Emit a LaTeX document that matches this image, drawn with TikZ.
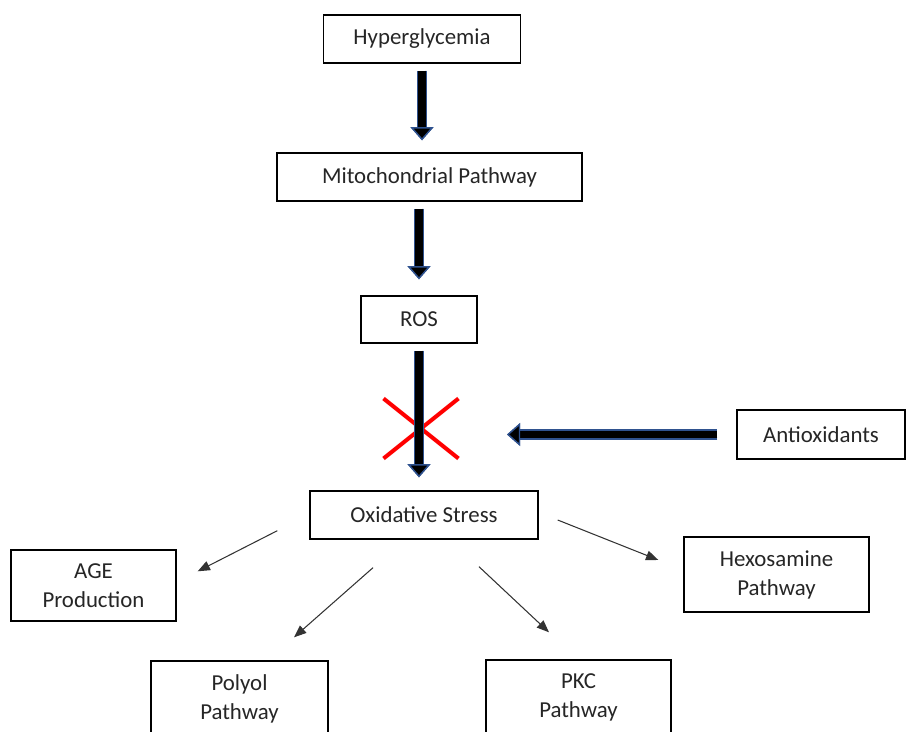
\documentclass[tikz,border=0pt]{standalone}
\usepackage{fontspec}
\setmainfont{Carlito}
\usetikzlibrary{arrows.meta,shapes.misc,calc}
\definecolor{arrowblue}{RGB}{47,82,143}
\definecolor{crossred}{RGB}{255,0,0}
\newcommand{\boxfont}{\fontsize{13}{16.5}\selectfont}

\begin{document}
\begin{tikzpicture}[x=0.02cm,y=-0.02cm,
    box/.style={draw,line width=0.8pt,fill=white,text=black!85,align=center,font=\boxfont,inner sep=1pt},
    bigarrow/.style={draw=black,line width=4.2pt,
      -{Triangle[length=7.5pt,width=13pt,fill=black,color=arrowblue,line width=0.8pt]},
      preaction={draw=arrowblue,line width=5.8pt}},
    thinarrow/.style={draw=black!80,line width=0.6pt,-{Triangle[length=7pt,width=5.5pt]}}]
  \useasboundingbox (0,0) rectangle (906,732);
  \clip (0,0) rectangle (906,732);
      % main chain
      \node[box,minimum width=3.94cm,minimum height=0.96cm] (hyper) at (422,39) {Hyperglycemia};
      \node[box,minimum width=6.1cm,minimum height=0.96cm] (mito) at (429.5,177) {Mitochondrial Pathway};
      \node[box,minimum width=2.32cm,minimum height=0.94cm] (ros) at (419,319.5) {ROS};
      \node[box,minimum width=4.56cm,minimum height=0.96cm] (ox) at (424,515) {Oxidative Stress};
      \node[box,minimum width=3.36cm,minimum height=0.98cm] (anti) at (821,434.5) {Antioxidants};
      % pathways
      \node[box,minimum width=3.3cm,minimum height=1.42cm] (age) at (93.5,585.5) {AGE\\Production};
      \node[box,minimum width=3.7cm,minimum height=1.5cm] (hexo) at (776.5,574.5) {Hexosamine\\Pathway};
      \node[box,minimum width=3.54cm,minimum height=1.5cm] (polyol) at (239.5,698.5) {Polyol\\Pathway};
      \node[box,minimum width=3.7cm,minimum height=1.5cm] (pkc) at (578.5,697.5) {PKC\\Pathway};
      % block
      \node[cross out,draw=crossred,line width=2.3pt,inner sep=0pt,outer sep=0pt,
            minimum width=1.5cm,minimum height=1.2cm] (block) at (421,428.5) {};
      \coordinate (hit) at (507,434.5);

    \draw[bigarrow,shorten <=0.14cm,shorten >=0.24cm] (hyper.south) -- (hyper.south |- mito.north);
    \draw[bigarrow,shorten <=0.14cm,shorten >=0.32cm] (ros.north |- mito.south) -- (ros.north);
    \draw[bigarrow,shorten <=0.14cm,shorten >=0.26cm] (ros.south) -- (ros.south |- ox.north);
    \draw[bigarrow,shorten <=0.38cm] (anti.west) -- (hit);

    \draw[thinarrow] ($(ox.south west)+(-32,-9)$) -- ($(age.north east)+(21,22)$);
    \draw[thinarrow] ($(ox.south)+(-51,28)$) -- ($(polyol.north)+(54.5,-23)$);
    \draw[thinarrow] ($(ox.south)+(55,27)$) -- ($(pkc.north)+(-29.5,-27)$);
    \draw[thinarrow] ($(ox.east)+(19,5)$) -- ($(hexo.west)+(-25,-14.5)$);
\end{tikzpicture}
\end{document}
